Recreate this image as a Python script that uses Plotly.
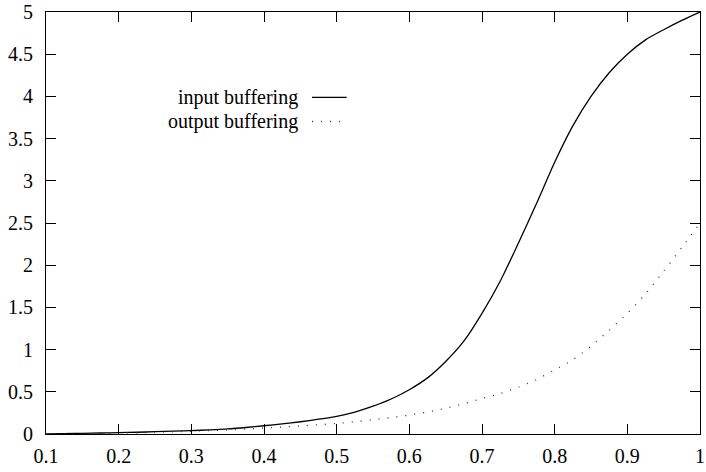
import plotly.graph_objects as go

x_vals = [0.1, 0.125, 0.15, 0.175, 0.2, 0.225, 0.25, 0.275, 0.3, 0.325, 0.35,
          0.375, 0.4, 0.425, 0.45, 0.475, 0.5, 0.525, 0.55, 0.575, 0.6, 0.625,
          0.65, 0.675, 0.7, 0.725, 0.75, 0.775, 0.8, 0.825, 0.85, 0.875, 0.9,
          0.925, 0.95, 0.975, 1.0]
input_buffering = [0.0, 0.004, 0.008, 0.012, 0.016, 0.021, 0.027, 0.033, 0.04, 0.049,
                   0.06, 0.077, 0.098, 0.12, 0.145, 0.175, 0.21, 0.26, 0.33, 0.415,
                   0.525, 0.665, 0.86, 1.1, 1.43, 1.81, 2.26, 2.73, 3.22, 3.65,
                   4.0, 4.28, 4.5, 4.67, 4.79, 4.9, 5.0]
output_buffering = [0.0, 0.001, 0.003, 0.006, 0.01, 0.015, 0.02, 0.026, 0.033, 0.04,
                    0.047, 0.058, 0.07, 0.082, 0.095, 0.11, 0.125, 0.145, 0.17, 0.195,
                    0.224, 0.26, 0.305, 0.36, 0.42, 0.48, 0.555, 0.645, 0.76, 0.88,
                    1.04, 1.23, 1.43, 1.66, 1.93, 2.21, 2.5]
legend_labels = ["input buffering", "output buffering"]
x_ticks = [0.1, 0.2, 0.3, 0.4, 0.5, 0.6, 0.7, 0.8, 0.9, 1.0]
x_tick_text = ["0.1", "0.2", "0.3", "0.4", "0.5", "0.6", "0.7", "0.8", "0.9", "1"]
y_ticks = [0, 0.5, 1, 1.5, 2, 2.5, 3, 3.5, 4, 4.5, 5]
y_tick_text = ["0", "0.5", "1", "1.5", "2", "2.5", "3", "3.5", "4", "4.5", "5"]

FONT = "Liberation Serif"
W, H = 706, 472
ML, MR, MT, MB = 46, 1, 10, 38

fig = go.Figure()
fig.add_trace(go.Scatter(x=x_vals, y=input_buffering, mode="lines",
                         line=dict(color="black", width=1.3, shape="spline", smoothing=0.8),
                         name=legend_labels[0], showlegend=False))
fig.add_trace(go.Scatter(x=x_vals, y=output_buffering, mode="lines",
                         line=dict(color="#333333", width=1.3, shape="spline", smoothing=0.8,
                                   dash="1px,8px"),
                         name=legend_labels[1], showlegend=False))

pw = W - ML - MR
ph = H - MT - MB

def px_x(p):
    return (p - ML) / pw

def px_y(p):
    return 1 - (p - MT) / ph

legend_rows = [95.7, 120]
styles = [dict(color="black", width=1.3), dict(color="#333333", width=1.3, dash="1px,8px")]
for lab, yy, st in zip(legend_labels, legend_rows, styles):
    fig.add_annotation(x=px_x(302), y=px_y(yy), xref="paper", yref="paper",
                       text=lab, showarrow=False, xanchor="right", yanchor="middle",
                       font=dict(family=FONT, size=20, color="black"))
    fig.add_shape(type="line", xref="paper", yref="paper",
                  x0=px_x(314), x1=px_x(349), y0=px_y(yy), y1=px_y(yy), line=st)

axis_common = dict(showline=True, linecolor="black", linewidth=1, mirror="ticks",
                   ticks="inside", ticklen=10, tickcolor="black", tickwidth=1,
                   showgrid=False, zeroline=False, ticklabeloverflow="allow",
                   tickfont=dict(family=FONT, size=20, color="black"))

fig.update_layout(
    width=W, height=H,
    margin=dict(l=ML, r=MR, t=MT, b=MB, pad=0),
    paper_bgcolor="white", plot_bgcolor="white",
    xaxis=dict(range=[0.1, 1.0], tickvals=x_ticks, ticktext=x_tick_text,
               ticklabelstandoff=4, **axis_common),
    yaxis=dict(range=[0, 5], tickvals=y_ticks, ticktext=y_tick_text,
               ticklabelstandoff=8, **axis_common),
)

fig.write_html("out.html", config={"displayModeBar": False},
               post_script="document.body.style.margin='0';")
